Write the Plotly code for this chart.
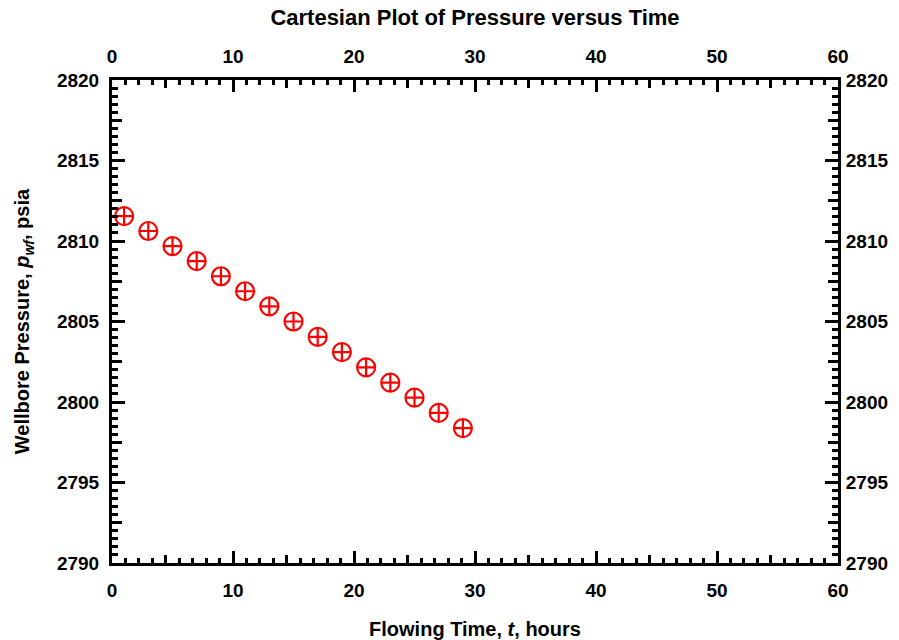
import plotly.graph_objects as go

# Data
time_hours = [1, 3, 5, 7, 9, 11, 13, 15, 17, 19, 21, 23, 25, 27, 29]
pressure_psia = [2811.55, 2810.62, 2809.68, 2808.75, 2807.81, 2806.88, 2805.94,
                 2805.00, 2804.05, 2803.10, 2802.15, 2801.20, 2800.27, 2799.33, 2798.38]

x_range = [0, 60]
y_range = [2790, 2820]
x_medium_ticks = [4.444 + 10 * k for k in range(6)]
y_medium_ticks = [2792.5, 2797.5, 2802.5, 2807.5, 2812.5, 2817.5]

FONT = "Liberation Sans"
tickfont = dict(family=FONT, size=19, color="black", weight="bold")
titlefont = dict(family=FONT, size=20, color="black", weight="bold")

W, H = 891, 632  # page body adds an 8px margin

fig = go.Figure()
fig.add_trace(go.Scatter(
    x=time_hours, y=pressure_psia, mode="markers",
    marker=dict(symbol="circle-cross-open", size=18, color="#ff0000",
                line=dict(width=2.2, color="#ff0000")),
    showlegend=False, hoverinfo="x+y"))
# invisible helper traces so the overlay axes (top/right/medium ticks) are drawn
for xa, ya in [("x2", "y2"), ("x3", "y3"), ("x4", "y4")]:
    fig.add_trace(go.Scatter(x=time_hours, y=pressure_psia, xaxis=xa, yaxis=ya,
                             mode="markers", marker=dict(opacity=0),
                             showlegend=False, hoverinfo="skip"))

common_x = dict(range=x_range, autorange=False, showgrid=False, zeroline=False,
                fixedrange=True, automargin=False)
common_y = dict(range=y_range, autorange=False, showgrid=False, zeroline=False,
                fixedrange=True, automargin=False)

fig.update_layout(
    width=W, height=H,
    margin=dict(l=104, r=61, t=72, b=77, autoexpand=False),
    paper_bgcolor="white", plot_bgcolor="white",
    title=dict(text="Cartesian Plot of Pressure versus Time",
               font=dict(family=FONT, size=22, color="black", weight="bold"),
               x=0.5, xref="paper", y=1 - 9 / H, yref="container",
               xanchor="center", yanchor="middle"),
    xaxis=dict(**common_x, side="bottom", anchor="y",
               showline=True, linewidth=3, linecolor="black",
               tickmode="linear", tick0=0, dtick=10,
               ticks="inside", ticklen=12, tickwidth=3, tickcolor="black",
               tickfont=tickfont, ticklabelstandoff=8,
               minor=dict(ticks="inside", tick0=0, dtick=10 / 9, ticklen=5,
                          tickwidth=2.5, tickcolor="black"),
               title=dict(text="Flowing Time, <i>t</i>, hours",
                          font=titlefont, standoff=27)),
    xaxis2=dict(**common_x, side="top", overlaying="x", anchor="y",
                showline=True, linewidth=3, linecolor="black",
                tickmode="linear", tick0=0, dtick=10,
                ticks="inside", ticklen=12, tickwidth=3, tickcolor="black",
                tickfont=tickfont, ticklabelstandoff=6,
                minor=dict(ticks="inside", tick0=0, dtick=10 / 9, ticklen=5,
                           tickwidth=2.5, tickcolor="black")),
    xaxis3=dict(**common_x, side="bottom", overlaying="x", anchor="y",
                showline=False, tickmode="array", tickvals=x_medium_ticks,
                ticks="inside", ticklen=8, tickwidth=2.5, tickcolor="black",
                showticklabels=False),
    xaxis4=dict(**common_x, side="top", overlaying="x", anchor="y",
                showline=False, tickmode="array", tickvals=x_medium_ticks,
                ticks="inside", ticklen=8, tickwidth=2.5, tickcolor="black",
                showticklabels=False),
    yaxis=dict(**common_y, side="left", anchor="x",
               showline=True, linewidth=3, linecolor="black",
               tickmode="linear", tick0=2790, dtick=5,
               ticks="inside", ticklen=13, tickwidth=3, tickcolor="black",
               tickfont=tickfont, ticklabelstandoff=6,
               minor=dict(ticks="inside", tick0=2790, dtick=0.5, ticklen=6,
                          tickwidth=2.5, tickcolor="black"),
               title=dict(text="Wellbore Pressure, <i>p<sub>wf</sub></i>, psia",
                          font=titlefont, standoff=22)),
    yaxis2=dict(**common_y, side="right", overlaying="y", anchor="x",
                showline=True, linewidth=3, linecolor="black",
                tickmode="linear", tick0=2790, dtick=5,
                ticks="inside", ticklen=13, tickwidth=3, tickcolor="black",
                tickfont=tickfont, ticklabelstandoff=1,
                minor=dict(ticks="inside", tick0=2790, dtick=0.5, ticklen=6,
                           tickwidth=2.5, tickcolor="black")),
    yaxis3=dict(**common_y, side="left", overlaying="y", anchor="x",
                showline=False, tickmode="array", tickvals=y_medium_ticks,
                ticks="inside", ticklen=10, tickwidth=2.5, tickcolor="black",
                showticklabels=False),
    yaxis4=dict(**common_y, side="right", overlaying="y", anchor="x",
                showline=False, tickmode="array", tickvals=y_medium_ticks,
                ticks="inside", ticklen=10, tickwidth=2.5, tickcolor="black",
                showticklabels=False),
)

fig.write_html("out.html")
